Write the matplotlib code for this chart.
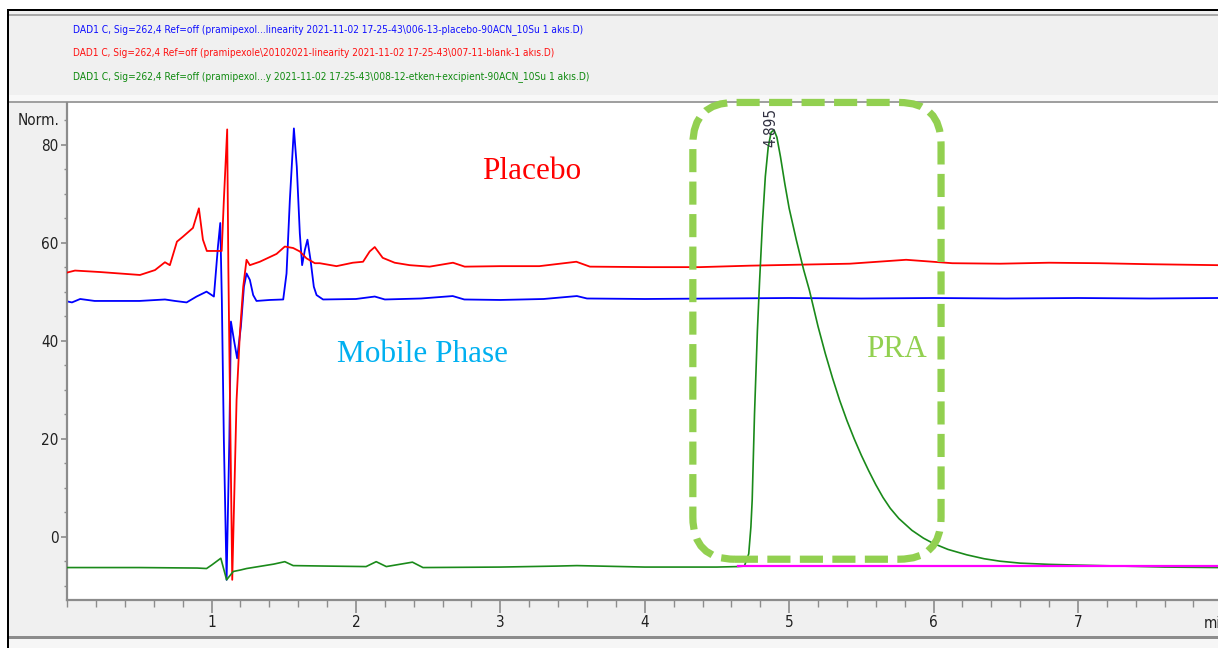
import matplotlib
matplotlib.use("Agg")
import matplotlib.pyplot as plt
from matplotlib.patches import Rectangle, FancyBboxPatch
from matplotlib.ticker import MultipleLocator, FixedLocator
from matplotlib import font_manager
from matplotlib.font_manager import FontProperties
import matplotlib.transforms as mtransforms

# ---------------- data ----------------
blue_t = [0.0, 0.033, 0.09, 0.19, 0.50, 0.677, 0.746, 0.827, 0.896, 0.965, 1.016, 1.044, 1.06,
          1.071, 1.085, 1.104, 1.123, 1.134, 1.155, 1.177, 1.203, 1.224, 1.242, 1.265, 1.288,
          1.311, 1.403, 1.496, 1.519, 1.542, 1.570, 1.590, 1.611, 1.627, 1.646, 1.664, 1.685,
          1.708, 1.727, 1.772, 2.0, 2.13, 2.2, 2.45, 2.67, 2.75, 3.0, 3.3, 3.53, 3.6, 4.0,
          4.5, 5.0, 5.5, 6.0, 6.5, 7.0, 7.5, 7.97]
blue_v = [48.0, 47.8, 48.5, 48.1, 48.1, 48.4, 48.1, 47.8, 49.0, 50.0, 49.0, 59.2, 64.0,
          48.3, 19.7, -8.8, 20.0, 43.9, 40.1, 36.4, 42.9, 51.0, 53.7, 52.4, 49.3,
          48.1, 48.3, 48.4, 53.7, 68.7, 83.3, 75.5, 61.9, 55.4, 58.5, 60.6, 56.5,
          51.0, 49.3, 48.4, 48.5, 49.0, 48.4, 48.6, 49.1, 48.4, 48.3, 48.5, 49.1, 48.6, 48.5,
          48.6, 48.7, 48.6, 48.7, 48.6, 48.7, 48.6, 48.7]

red_t = [0.0, 0.054, 0.227, 0.504, 0.608, 0.677, 0.711, 0.760, 0.801, 0.871, 0.912, 0.940,
         0.967, 1.07, 1.085, 1.108, 1.116, 1.143, 1.173, 1.196, 1.219, 1.242, 1.265, 1.334,
         1.45, 1.507, 1.565, 1.611, 1.657, 1.715, 1.749, 1.865, 1.978, 2.049, 2.095, 2.13,
         2.185, 2.268, 2.372, 2.51, 2.672, 2.753, 3.0, 3.27, 3.526, 3.62, 4.03, 4.38, 4.73,
         5.07, 5.42, 5.81, 6.13, 6.46, 6.80, 7.15, 7.49, 7.97]
red_v = [53.9, 54.3, 54.0, 53.4, 54.4, 56.0, 55.4, 60.2, 61.2, 63.0, 67.0, 60.6,
         58.3, 58.3, 68.7, 83.1, 55.0, -8.8, 27.9, 41.5, 51.0, 56.5, 55.4, 56.1,
         57.7, 59.2, 58.9, 58.2, 56.8, 55.8, 55.8, 55.2, 55.9, 56.1, 58.2, 59.1,
         56.9, 55.9, 55.4, 55.1, 55.9, 55.1, 55.2, 55.2, 56.1, 55.1, 55.0, 55.0, 55.3,
         55.5, 55.7, 56.5, 55.8, 55.7, 55.9, 55.8, 55.6, 55.4]

green_t = [0.0, 0.5, 0.9, 0.965, 1.0, 1.064, 1.104, 1.15, 1.2, 1.242, 1.43, 1.507, 1.565,
           1.8, 2.07, 2.14, 2.21, 2.391, 2.464, 3.0, 3.39, 3.53, 4.0, 4.5, 4.644, 4.69,
           4.72, 4.735, 4.744, 4.76, 4.78, 4.795, 4.815, 4.835, 4.855, 4.875, 4.895, 4.915,
           4.94, 4.97, 5.0, 5.05, 5.1, 5.14, 5.2, 5.25, 5.3, 5.35, 5.4, 5.45, 5.5, 5.55, 5.6,
           5.65, 5.7, 5.76, 5.85, 5.93, 6.0, 6.1, 6.23, 6.35, 6.46, 6.6, 6.8, 7.0, 7.3, 7.6, 7.97]
green_v = [-6.3, -6.3, -6.4, -6.5, -5.8, -4.4, -8.8, -7.1, -6.8, -6.5, -5.6, -5.1, -5.9,
           -6.0, -6.1, -5.1, -6.1, -5.2, -6.3, -6.2, -6.0, -5.9, -6.2, -6.2, -6.1, -6.0,
           -3.5, 2.0, 7.5, 25.0, 42.0, 52.0, 64.0, 73.5, 79.5, 82.5, 83.0, 81.5,
           77.5, 72.0, 67.0, 60.5, 54.5, 50.3, 42.9, 37.4, 32.4, 27.8, 23.7, 20.0, 16.6, 13.5, 10.6,
           8.0, 5.8, 3.7, 1.3, -0.3, -1.4, -2.6, -3.7, -4.5, -5.0, -5.4, -5.65, -5.8, -6.0, -6.2, -6.3]

baseline_t = [4.644, 7.97]
baseline_v = [-5.9, -5.9]

peak_rt = 4.895
peak_label = "4.895"

x_major = [1, 2, 3, 4, 5, 6, 7]
x_labels = ["1", "2", "3", "4", "5", "6", "7"]
y_major = [0, 20, 40, 60, 80]
y_labels = ["0", "20", "40", "60", "80"]

legend_lines = [
    r"DAD1 C, Sig=262,4 Ref=off (pramipexol...linearity 2021-11-02 17-25-43\006-13-placebo-90ACN_10Su 1 akıs.D)",
    r"DAD1 C, Sig=262,4 Ref=off (pramipexole\20102021-linearity 2021-11-02 17-25-43\007-11-blank-1 akıs.D)",
    r"DAD1 C, Sig=262,4 Ref=off (pramipexol...y 2021-11-02 17-25-43\008-12-etken+excipient-90ACN_10Su 1 akıs.D)",
]
legend_colors = ["#1010ff", "#ff1010", "#108a10"]

ann_placebo = "Placebo"
ann_mobile = "Mobile Phase"
ann_pra = "PRA"

# ---------------- fonts ----------------
def narrow_props():
    for f in font_manager.fontManager.ttflist:
        if f.name == "Liberation Sans Narrow" and f.weight in (400, "normal", "regular") \
                and f.style == "normal":
            return FontProperties(fname=f.fname)
    for f in font_manager.fontManager.ttflist:
        fn = f.fname.replace("\\", "/").split("/")[-1]
        if fn == "DejaVuSansCondensed.ttf":
            return FontProperties(fname=f.fname)
    names = {f.name for f in font_manager.fontManager.ttflist}
    return FontProperties(family="Liberation Sans" if "Liberation Sans" in names else "DejaVu Sans")

names = {f.name for f in font_manager.fontManager.ttflist}
serif = "Liberation Serif" if "Liberation Serif" in names else "DejaVu Serif"
NP = narrow_props()

def fp(size):
    p = NP.copy()
    p.set_size(size)
    return p

W, H = 1218, 648
fig = plt.figure(figsize=(W / 100, H / 100), dpi=100)
fig.patch.set_facecolor("white")

# background / frame in pixel coordinates
bg = fig.add_axes([0, 0, 1, 1], zorder=0)
bg.set_xlim(0, W)
bg.set_ylim(H, 0)
bg.axis("off")
bg.add_patch(Rectangle((9, 11), W - 9, H - 11, facecolor="#f0f0f0", edgecolor="none"))
bg.add_patch(Rectangle((9, 13.5), W - 9, 2.5, facecolor="#a8a8a8", edgecolor="none"))
bg.add_patch(Rectangle((9, 95), W - 9, 5.5, facecolor="#f8f8f8", edgecolor="none"))
bg.add_patch(Rectangle((9, 100.5), W - 9, 2.5, facecolor="#a0a0a0", edgecolor="none"))
bg.add_patch(Rectangle((9, 638.5), W - 9, H - 638.5, facecolor="#f6f6f6", edgecolor="none"))
bg.add_patch(Rectangle((9, 636), W - 9, 2.5, facecolor="#8c8c8c", edgecolor="none"))
bg.add_patch(Rectangle((6.5, 9), 2.8, H - 9, facecolor="black", edgecolor="none"))
bg.add_patch(Rectangle((6.5, 9), W - 6.5, 2.2, facecolor="black", edgecolor="none"))

legend_y = [30, 53, 77]
legend_w = [510, 482, 514]
texts = []
for s, c, y in zip(legend_lines, legend_colors, legend_y):
    texts.append(bg.text(73, y, s, color=c, fontproperties=fp(9), va="center", ha="left"))
fig.canvas.draw()
r = fig.canvas.get_renderer()
for t, w in zip(texts, legend_w):
    ext = t.get_window_extent(r)
    t.set_fontsize(9 * w / ext.width)

# main chart axes
x0, x1 = 0.0, 7.97
y0, y1 = -12.92, 88.49
left_px, right_px, top_px, bot_px = 67.2, W, 103, 600
ax = fig.add_axes([left_px / W, (H - bot_px) / H, (right_px - left_px) / W, (bot_px - top_px) / H],
                  zorder=1)
ax.set_facecolor("white")
ax.set_xlim(x0, x1)
ax.set_ylim(y0, y1)

ax.plot(blue_t, blue_v, color="#0000ff", lw=1.3, zorder=2, solid_joinstyle="round")
ax.plot(red_t, red_v, color="#ff0000", lw=1.3, zorder=3, solid_joinstyle="round")
ax.plot(green_t, green_v, color="#1a8a1a", lw=1.2, zorder=4, solid_joinstyle="round")
ax.plot(baseline_t, baseline_v, color="#ff00ff", lw=1.6, zorder=5)

for side in ["top", "right"]:
    ax.spines[side].set_visible(False)
for side in ["left", "bottom"]:
    ax.spines[side].set_color("#8c8c8c")
    ax.spines[side].set_linewidth(1.6)

ax.xaxis.set_major_locator(FixedLocator(x_major))
ax.set_xticklabels(x_labels)
ax.xaxis.set_minor_locator(MultipleLocator(0.2))
ax.yaxis.set_major_locator(FixedLocator(y_major))
ax.set_yticklabels(y_labels)
ax.yaxis.set_minor_locator(MultipleLocator(5))
ax.tick_params(axis="x", which="major", direction="out", length=9, width=1.2, color="#8c8c8c",
               pad=2, labelcolor="#202020")
ax.tick_params(axis="x", which="minor", direction="out", length=5, width=1.0, color="#8c8c8c")
ax.tick_params(axis="y", which="major", direction="out", length=4.5, width=1.2, color="#8c8c8c",
               pad=1.5, labelcolor="#202020")
ax.tick_params(axis="y", which="minor", direction="out", length=2.4, width=1.0, color="#8c8c8c")
for lab in ax.get_xticklabels() + ax.get_yticklabels():
    lab.set_fontproperties(fp(11))

ax.annotate("Norm.", xy=(0, 85), xycoords=("axes fraction", "data"), xytext=(-5.5, 0),
            textcoords="offset points", ha="right", va="center", fontproperties=fp(11),
            color="#202020", annotation_clip=False)
ax.annotate("min", xy=(7.874, 0), xycoords=("data", "axes fraction"), xytext=(0, -17),
            textcoords="offset points", ha="left", va="center", fontproperties=fp(11),
            color="#202020", annotation_clip=False)

ax.text(peak_rt - 0.02, 83.6, peak_label, rotation=90, ha="center", va="center",
        fontproperties=fp(11), color="#303040", zorder=6, clip_on=False)

ax.text(3.217, 74.6, ann_placebo, color="#ff0000", fontsize=22.5, family=serif,
        ha="center", va="center", zorder=7)
ax.text(2.459, 37.1, ann_mobile, color="#00b0f0", fontsize=22.5, family=serif,
        ha="center", va="center", zorder=7)
ax.text(5.743, 38.1, ann_pra, color="#92d050", fontsize=22.5, family=serif,
        ha="center", va="center", zorder=7)

# dashed rounded highlight box around the PRA peak
(bx0, by0) = ax.transData.transform((4.333, -4.6))
(bx1, by1) = ax.transData.transform((6.052, 88.6))
box = FancyBboxPatch((bx0, by0), bx1 - bx0, by1 - by0,
                     boxstyle="round,pad=0,rounding_size=42",
                     transform=mtransforms.IdentityTransform(),
                     facecolor="none", edgecolor="#92d050", linewidth=5.2,
                     linestyle=(0, (3.2, 1.3)), zorder=10, clip_on=False)
fig.add_artist(box)

fig.savefig("out.png", dpi=100)
